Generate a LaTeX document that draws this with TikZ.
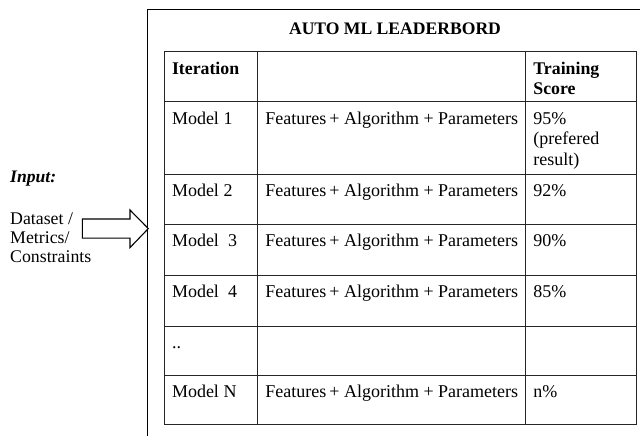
\documentclass[tikz,border=0pt]{standalone}
\usepackage{fontspec}
\setmainfont{Liberation Serif}
\begin{document}
\begin{tikzpicture}[x=1bp,y=-1bp,
  txt/.style={anchor=base west,inner sep=0pt,font=\fontsize{18bp}{20.5bp}\selectfont},
  hdr/.style={anchor=base west,inner sep=0pt,font=\fontsize{17.8bp}{20.5bp}\selectfont\bfseries},
  grid/.style={line width=0.95bp,draw=black!85},
  frame/.style={line width=1.3bp,draw=black},
  blockarrow/.style={line width=1.1bp,draw=black,fill=white,line join=miter}]
\useasboundingbox (0,0) rectangle (640,436);
\clip (0,0) rectangle (640,436);
% outer frame (continues beyond the right and bottom edges)
\coordinate (frameBL) at (147.7,440);
\coordinate (frameTL) at (147.7,9.5);
\coordinate (frameTR) at (645,9.5);
\draw[frame] (frameBL) -- (frameTL) -- (frameTR);
% title
\node[inner sep=0pt,anchor=base,font=\fontsize{17.6bp}{20.5bp}\selectfont\bfseries] (title) at (395,35) {AUTO ML LEADERBORD};
% table grid
\def\cA{164.3}\def\cB{257.7}\def\cC{525.7}\def\cD{636}
\draw[grid] (\cA,51.7) rectangle (\cD,424.3);
\foreach \r in {101.7,174,224,275,326,375}{\draw[grid] (\cA,\r) -- (\cD,\r);}
\draw[grid] (\cB,51.7) -- (\cB,424.3);
\draw[grid] (\cC,51.7) -- (\cC,424.3);
% header
\node[hdr] (hIter) at (171.8,74.2) {Iteration};
\node[hdr] (hScore) at (533.2,74.2) {\vtop{\hbox{Training}\hbox{Score}}};
% rows
\node[txt] (m1) at (171.8,124.2) {Model 1};
\node[txt] (f1) at (265.2,124.2) {Features\,+ Algorithm + Parameters};
\node[txt] (s1) at (533.2,124.2) {\vtop{\hbox{95\%}\hbox{(prefered}\hbox{result)}}};
\node[txt] (m2) at (171.8,196.5) {Model 2};
\node[txt] (f2) at (265.2,196.5) {Features\,+ Algorithm + Parameters};
\node[txt] (s2) at (533.2,196.5) {92\%};
\node[txt] (m3) at (171.8,246.5) {Model\ \ 3};
\node[txt] (f3) at (265.2,246.5) {Features\,+ Algorithm + Parameters};
\node[txt] (s3) at (533.2,246.5) {90\%};
\node[txt] (m4) at (171.8,297.5) {Model\ \ 4};
\node[txt] (f4) at (265.2,297.5) {Features\,+ Algorithm + Parameters};
\node[txt] (s4) at (533.2,297.5) {85\%};
\node[txt] (m5) at (171.8,348.5) {..};
\node[txt] (mN) at (171.8,397.5) {Model N};
\node[txt] (fN) at (265.2,397.5) {Features\,+ Algorithm + Parameters};
\node[txt] (sN) at (533.2,397.5) {n\%};
% input
\node[txt,font=\fontsize{17.6bp}{20.5bp}\selectfont\bfseries\itshape] (input) at (10,182.7) {Input:};
\node[txt,font=\fontsize{17.8bp}{18.8bp}\selectfont] (data) at (10,225) {\vtop{\hbox{Dataset /}\hbox{Metrics/}\hbox{Constraints}}};
% block arrow
\coordinate (tail) at (82.3,228.6);
\coordinate (tip) at (148.3,228.6);
\draw[blockarrow] (tail) ++(0,-9.6) -- ++(47.7,0) -- ++(0,-9) -- (tip) -- ++(-18.3,19) -- ++(0,-9.4) -- ++(-47.7,0) -- cycle;
\end{tikzpicture}
\end{document}
